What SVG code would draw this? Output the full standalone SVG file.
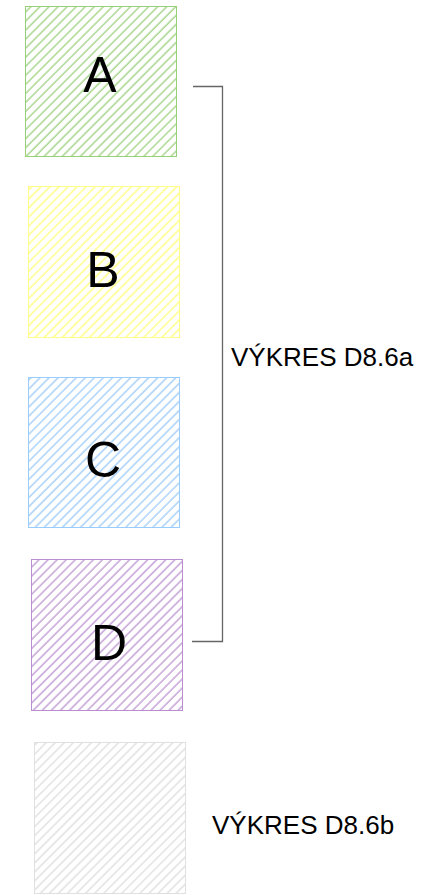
<svg xmlns="http://www.w3.org/2000/svg" width="438" height="895" viewBox="0 0 438 895">
<style>
.lbl{font-family:"Liberation Sans",Arial,sans-serif;fill:#000}
.big{font-size:50px;text-anchor:middle}
.side{font-size:26px}
</style>
<defs>
<pattern id="hA" patternUnits="userSpaceOnUse" width="6.4" height="10" patternTransform="rotate(45)"><line x1="1" y1="0" x2="1" y2="10" stroke="#8FCB6F" stroke-width="1.15"/></pattern>
<pattern id="hB" patternUnits="userSpaceOnUse" width="6.4" height="10" patternTransform="rotate(45)"><line x1="1" y1="0" x2="1" y2="10" stroke="#FFFF77" stroke-width="1.3"/></pattern>
<pattern id="hC" patternUnits="userSpaceOnUse" width="6.4" height="10" patternTransform="rotate(45)"><line x1="1" y1="0" x2="1" y2="10" stroke="#8EC3F5" stroke-width="1.15"/></pattern>
<pattern id="hD" patternUnits="userSpaceOnUse" width="6.4" height="10" patternTransform="rotate(45)"><line x1="1" y1="0" x2="1" y2="10" stroke="#B486CC" stroke-width="1.15"/></pattern>
<pattern id="hE" patternUnits="userSpaceOnUse" width="6.4" height="10" patternTransform="rotate(45)"><line x1="1" y1="0" x2="1" y2="10" stroke="#DDDDDD" stroke-width="1.3"/></pattern>
</defs>
<rect width="438" height="895" fill="#fff"/>
<g id="nodeA"><rect x="25.5" y="6.5" width="151" height="150" fill="url(#hA)" stroke="#97D077"/><text class="lbl big" x="100" y="92">A</text></g>
<g id="nodeB"><rect x="28.5" y="186.5" width="151" height="151" fill="url(#hB)" stroke="#FFFF88"/><text class="lbl big" x="103" y="287">B</text></g>
<g id="nodeC"><rect x="28.5" y="377.5" width="151" height="150" fill="url(#hC)" stroke="#99CCFF"/><text class="lbl big" x="103" y="477">C</text></g>
<g id="nodeD"><rect x="31.5" y="559.5" width="151" height="151" fill="url(#hD)" stroke="#B98DD0"/><text class="lbl big" x="109" y="660">D</text></g>
<g id="nodeE"><rect x="34.5" y="742.5" width="151" height="151" fill="url(#hE)" stroke="#E0E0E0"/></g>
<g id="connectors"><path d="M193 86.5H222.5V641.5H192" fill="none" stroke="#666" stroke-width="1.3"/></g>
<g id="labels"><text class="lbl side" x="231" y="366">VÝKRES D8.6a</text><text class="lbl side" x="212" y="834">VÝKRES D8.6b</text></g>
</svg>
